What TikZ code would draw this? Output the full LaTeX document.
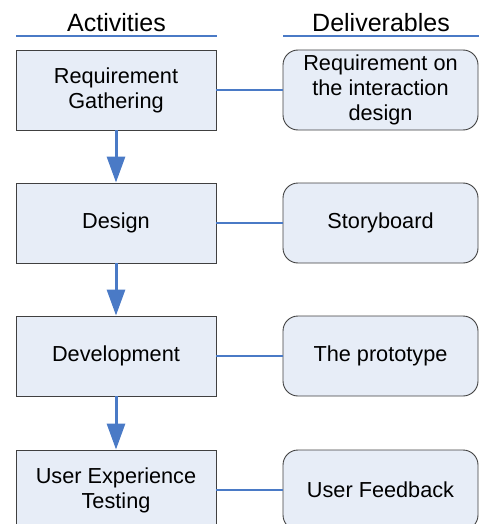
\documentclass[tikz,border=0pt]{standalone}
\usepackage{fontspec}
\setmainfont{Liberation Sans}
\usetikzlibrary{arrows.meta}
\definecolor{boxfill}{HTML}{E7EDF7}
\definecolor{lineblue}{HTML}{4A7AC6}
\definecolor{edgegray}{HTML}{404040}
\begin{document}
\begin{tikzpicture}[x=1pt,y=-1pt,
  activity/.style={draw=edgegray, line width=0.9pt, fill=boxfill, minimum width=200pt, minimum height=80pt, align=center, font=\fontsize{21.7}{25}\selectfont, inner sep=0pt},
  deliverable/.style={activity, rounded corners=15pt, minimum width=195pt},
  flow/.style={draw=lineblue, line width=3pt, -{Triangle[length=26pt,width=18pt,fill=lineblue]}},
  link/.style={draw=lineblue, line width=1.8pt},
  header/.style={font=\fontsize{25}{30}\selectfont, anchor=base, inner sep=0pt},
  rulestyle/.style={draw=lineblue, line width=1.5pt}]
\useasboundingbox (0,0) rectangle (479,524);
% headers
\node[header] (h1) at (116.5,32) {Activities};
\node[header] (h2) at (381,32) {Deliverables};
\coordinate (r1a) at (16,36);
\coordinate (r1b) at (217,36);
\coordinate (r2a) at (283,36);
\coordinate (r2b) at (479,36);
\draw[rulestyle] (r1a) -- (r1b);
\draw[rulestyle] (r2a) -- (r2b);
% activities
\node[activity] (a1) at (116,90) {Requirement\\Gathering};
\node[activity] (a2) at (116,223) {Design};
\node[activity] (a3) at (116,356) {Development};
\node[activity] (a4) at (116,490) {User Experience\\Testing};
% deliverables
\node[deliverable] (d1) at (380.5,90) {Requirement on\\the interaction\\design};
\node[deliverable] (d2) at (380.5,223) {Storyboard};
\node[deliverable] (d3) at (380.5,356) {The prototype};
\node[deliverable] (d4) at (380.5,490) {User Feedback};
% flow arrows
\draw[flow] (a1.south) -- (a2.north);
\draw[flow] (a2.south) -- (a3.north);
\draw[flow] (a3.south) -- (a4.north);
% links
\draw[link] (a1.east) -- (d1.west);
\draw[link] (a2.east) -- (d2.west);
\draw[link] (a3.east) -- (d3.west);
\draw[link] (a4.east) -- (d4.west);
\end{tikzpicture}
\end{document}
